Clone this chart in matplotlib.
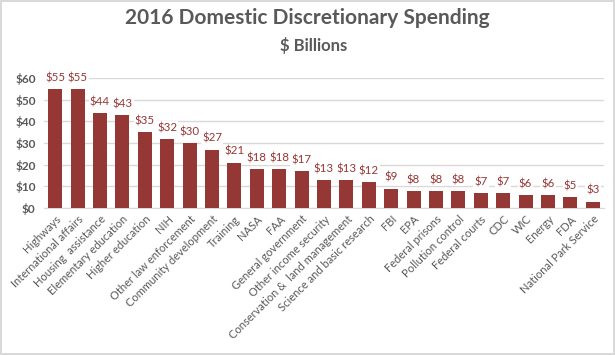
import matplotlib.pyplot as plt
import numpy as np

# Data
categories = [
    "Highways", "International affairs", "Housing  assistance", "Elementary education",
    "Higher education", "NIH", "Other law enforcement", "Community development",
    "Training", "NASA", "FAA", "General government", "Other income security",
    "Conservation &  land management", "Science and basic research", "FBI", "EPA",
    "Federal prisons", "Pollution control", "Federal courts", "CDC", "WIC", "Energy",
    "FDA", "National Park Service",
]
spending = [55, 55, 44, 43, 35, 32, 30, 27, 21, 18, 18, 17, 13, 13, 12,
            9, 8, 8, 8, 7, 7, 6, 6, 5, 3]
y_ticks = [0, 10, 20, 30, 40, 50, 60]

BAR_COLOR = "#953735"
TEXT_GRAY = "#595959"
plt.rcParams["font.family"] = ["Lato", "DejaVu Sans"]

fig = plt.figure(figsize=(6.15, 3.55), dpi=100)
fig.patch.set_edgecolor("#d9d9d9")
fig.patch.set_linewidth(1.5)
ax = fig.add_axes([44 / 615, 147 / 355, 560 / 615, 130 / 355])

x = np.arange(len(categories))
bars = ax.bar(x, spending, width=0.62, color=BAR_COLOR, zorder=2)

# Value labels on top of bars
for bar, val in zip(bars, spending):
    ax.annotate(f"${val}", xy=(bar.get_x() + bar.get_width() / 2, val),
                xytext=(0, 4), textcoords="offset points",
                ha="center", va="bottom", fontsize=8.3, color=BAR_COLOR, zorder=3,
                bbox=dict(boxstyle="square,pad=0.1", fc="white", ec="none"))

ax.set_xlim(-0.5, len(categories) - 0.5)
ax.set_ylim(0, 60)
ax.set_yticks(y_ticks)
ax.set_yticklabels([f"${t}" for t in y_ticks], fontsize=8.5, fontweight="bold", color=TEXT_GRAY)
ax.set_xticks(x)
ax.set_xticklabels(categories, rotation=45, ha="right", rotation_mode="anchor",
                   fontsize=8, color=TEXT_GRAY)
ax.tick_params(axis="both", length=0)
ax.tick_params(axis="y", pad=6)
ax.tick_params(axis="x", pad=4)

ax.grid(axis="y", color="#d9d9d9", linewidth=1, zorder=0)
for side in ["top", "right", "left"]:
    ax.spines[side].set_visible(False)
ax.spines["bottom"].set_color("#d9d9d9")
ax.spines["bottom"].set_zorder(1)

fig.text(0.5, 1 - 18 / 355, "2016 Domestic Discretionary Spending", ha="center", va="center",
         fontsize=15, fontweight="bold", color=TEXT_GRAY)
fig.text(0.51, 1 - 45 / 355, "$ Billions", ha="center", va="center",
         fontsize=12, fontweight="bold", color=TEXT_GRAY)

fig.savefig("out.png", dpi=100)
